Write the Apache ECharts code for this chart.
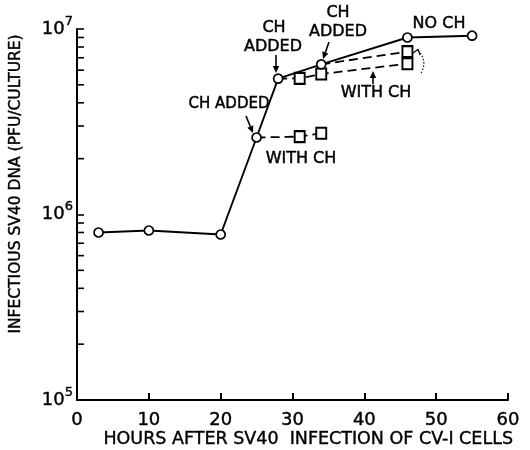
<!DOCTYPE html>
<html><head><meta charset="utf-8">
<script src="https://cdn.jsdelivr.net/npm/echarts@6/dist/echarts.min.js"></script>
<style>html,body{margin:0;padding:0;background:#fff}#c{width:530px;height:450px}</style>
</head><body><div id="c"></div>
<script>
// ---- data ----
const xTickValues = [0, 10, 20, 30, 40, 50, 60];
const minorTickValues = [2e5, 3e5, 4e5, 5e5, 6e5, 7e5, 8e5, 9e5, 2e6, 3e6, 4e6, 5e6, 6e6, 7e6, 8e6, 9e6];
const noChHours = [3, 10, 20, 25, 28, 34, 46, 55];
const noChValues = [8.0e5, 8.2e5, 7.8e5, 2.6e6, 5.4e6, 6.45e6, 9.0e6, 9.2e6];
const ch25Hours = [25, 31, 34];
const ch25Values = [2.6e6, 2.63e6, 2.74e6];
const ch28Hours = [28, 31, 34, 46];
const ch28Values = [5.4e6, 5.42e6, 5.72e6, 6.5e6];
const ch34Hours = [34, 46];
const ch34Values = [6.45e6, 7.55e6];
const xTitle = 'HOURS AFTER SV40  INFECTION OF CV-I CELLS';
const yTitle = 'INFECTIOUS SV40 DNA (PFU/CULTURE)';

// ---- chart ----
const FONT = '"DejaVu Sans", sans-serif';
const chart = echarts.init(document.getElementById('c'), null, {renderer: 'canvas'});

function pairs(xs, ys) { return xs.map((x, i) => [x, ys[i]]); }
function dashedData(xs, ys) {
  return xs.map((x, i) => i === 0 ? {value: [x, ys[i]], symbol: 'none'} : {value: [x, ys[i]]});
}
function dashedSeries(xs, ys) {
  return {
    type: 'line', data: dashedData(xs, ys), z: 3,
    symbol: 'rect', symbolSize: [10, 11],
    lineStyle: {color: '#000', width: 1.8, type: [9, 5]},
    itemStyle: {color: '#fff', borderColor: '#000', borderWidth: 2},
    emphasis: {disabled: true}
  };
}
function txt(t, x, y, size, align) {
  return {type: 'text', z: 50, style: {text: t, x: x, y: y, font: (size || 16) + 'px ' + FONT, fill: '#000',
    stroke: '#000', lineWidth: 0.45,
    textAlign: align || 'center', textVerticalAlign: 'middle'}};
}
function arrow(x1, y1, x2, y2) {
  const a = Math.atan2(y2 - y1, x2 - x1), L = 7, W = 3.2;
  const bx = x2 - L * Math.cos(a), by = y2 - L * Math.sin(a);
  const px = -Math.sin(a) * W, py = Math.cos(a) * W;
  return [
    {type: 'line', z: 50, shape: {x1: x1, y1: y1, x2: bx, y2: by}, style: {stroke: '#000', lineWidth: 1.6}},
    {type: 'polygon', z: 50, shape: {points: [[x2, y2], [bx + px, by + py], [bx - px, by - py]]}, style: {fill: '#000'}}
  ];
}

const graphics = [].concat(
  [txt('CH', 274, 28), txt('ADDED', 273, 47)], arrow(276, 55, 276, 73),
  [txt('CH', 338, 13), txt('ADDED', 338, 32)], arrow(329, 42, 323, 59),
  [txt('NO CH', 439, 24)],
  [txt('WITH CH', 376, 93)], arrow(373, 84, 373, 71),
  [txt('CH ADDED', 229, 104, 15)], arrow(246, 116, 253, 133),
  [txt('WITH CH', 301, 159)],
  [
    {type: 'bezierCurve', z: 50, shape: {x1: 421, y1: 73, x2: 418, y2: 50, cpx1: 428, cpy1: 62},
      style: {stroke: '#000', lineWidth: 1.1, lineDash: [1.5, 1.8], fill: null}},
    {type: 'polyline', z: 50, shape: {points: [[413, 53], [418, 49.5], [420, 55]]}, style: {stroke: '#000', lineWidth: 1.2, fill: null}}
  ],
  [
    {type: 'text', z: 50, style: {text: xTitle, x: 513, y: 439, font: '17.5px ' + FONT, fill: '#000', stroke: '#000', lineWidth: 0.4, textAlign: 'right', textVerticalAlign: 'middle'}},
    {type: 'text', z: 50, rotation: Math.PI / 2, x: 16, y: 184, style: {text: yTitle, x: 0, y: 0, font: '15.5px ' + FONT, fill: '#000', stroke: '#000', lineWidth: 0.4, textAlign: 'center', textVerticalAlign: 'middle'}}
  ]
);

chart.setOption({
  animation: false,
  backgroundColor: '#fff',
  grid: {left: 77, right: 22, top: 29, bottom: 50, containLabel: false},
  xAxis: {
    type: 'value', min: xTickValues[0], max: xTickValues[xTickValues.length - 1], interval: 10,
    axisLine: {lineStyle: {color: '#000', width: 2}},
    axisTick: {inside: true, length: 7, lineStyle: {color: '#000', width: 2}},
    axisLabel: {color: '#000', fontSize: 18, fontFamily: FONT, margin: 11,
      textBorderColor: '#000', textBorderWidth: 0.4,
      formatter: v => xTickValues.indexOf(v) >= 0 ? String(v) : ''},
    splitLine: {show: false}
  },
  yAxis: {
    type: 'log', logBase: 10, min: 1e5, max: 1e7,
    axisLine: {show: true, lineStyle: {color: '#000', width: 2}},
    axisTick: {show: true, inside: true, length: 7, lineStyle: {color: '#000', width: 1.6}},
    axisLabel: {
      color: '#000', margin: 4,
      formatter: v => '{a|10}{b|' + Math.round(Math.log10(v)) + '}',
      rich: {
        a: {fontSize: 18, fontFamily: FONT, color: '#000', lineHeight: 28, textBorderColor: '#000', textBorderWidth: 0.4},
        b: {fontSize: 13, fontFamily: FONT, color: '#000', verticalAlign: 'top', lineHeight: 13, textBorderColor: '#000', textBorderWidth: 0.4}
      }
    },
    splitLine: {show: false}
  },
  graphic: graphics,
  series: [
    {
      type: 'custom', z: 2, silent: true,
      data: minorTickValues.map(v => [0, v]),
      clip: false,
      renderItem: (params, api) => {
        const p = api.coord([0, api.value(1)]);
        return {type: 'line', shape: {x1: p[0], y1: p[1], x2: p[0] + 7, y2: p[1]}, style: {stroke: '#000', lineWidth: 1.6}};
      }
    },
    dashedSeries(ch25Hours, ch25Values),
    dashedSeries(ch28Hours, ch28Values),
    dashedSeries(ch34Hours, ch34Values),
    {
      type: 'line', data: pairs(noChHours, noChValues), z: 5,
      symbol: 'circle', symbolSize: 9,
      lineStyle: {color: '#000', width: 1.9},
      itemStyle: {color: '#fff', borderColor: '#000', borderWidth: 1.7},
      emphasis: {disabled: true}
    }
  ]
});
</script></body></html>
